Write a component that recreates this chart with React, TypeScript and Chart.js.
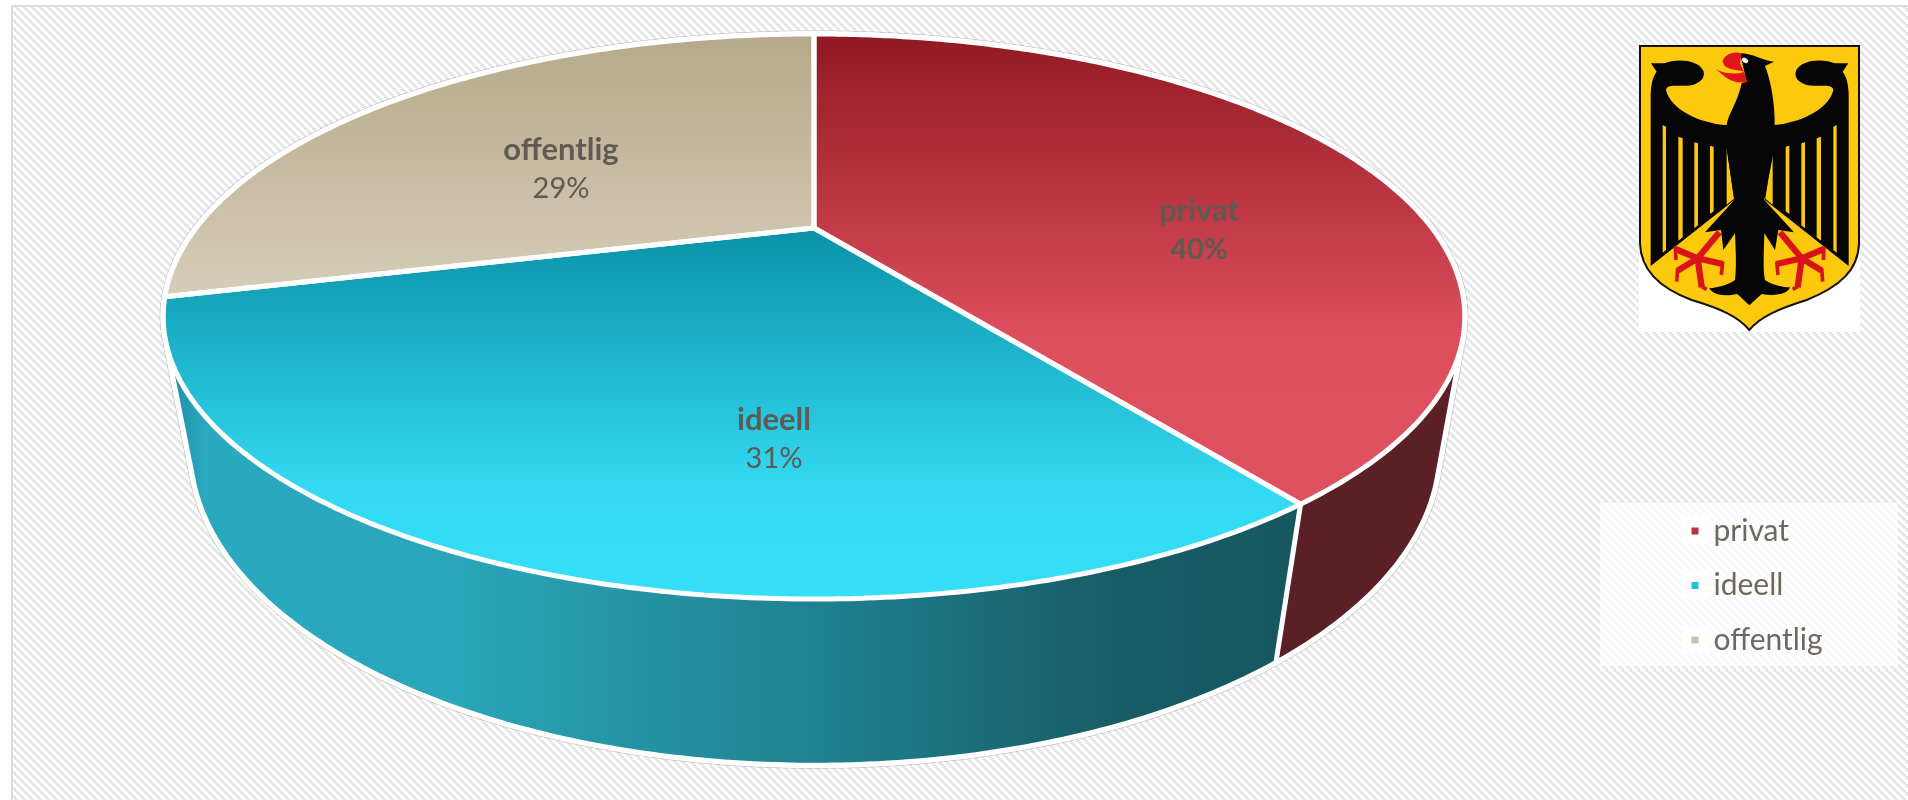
import React, { useEffect, useRef } from "react";
import { Chart, registerables } from "chart.js";

Chart.register(...registerables);

const categories = ["privat", "ideell", "offentlig"];
const shares = [40, 31, 29];
const legendColors = ["#c2303f", "#1fc0da", "#c9bfa6"];
const sideColors = ["#5a2026", "teal"];
const boldValue = [true, false, false];
const labelCentres = [
  [1199, 211, 250],
  [774, 420, 459],
  [561, 150, 189],
];

const W = 1908;
const H = 800;
// Perspective projection of the upper and lower discs
const TOP = { cx: 814, cy: 228, A: 618, B: 254.8, p: 0.3133 };
const LOW = { cx: 815, cy: 356, A: 597, B: 288.5, p: 0.295 };

type Disc = typeof TOP;
function project(d: Disc, angle: number, r = 1): [number, number] {
  const u = r * Math.cos(angle);
  const v = r * Math.sin(angle);
  const k = 1 - d.p * v;
  return [d.cx + (d.A * u) / k, d.cy + (d.B * v) / k];
}

function arcPoints(d: Disc, a: number, b: number): [number, number][] {
  const n = Math.max(2, Math.ceil(Math.abs(b - a) / 0.01));
  const pts: [number, number][] = [];
  for (let i = 0; i <= n; i++) pts.push(project(d, a + ((b - a) * i) / n));
  return pts;
}

function hull(points: [number, number][]): [number, number][] {
  const p = [...points].sort((a, b) => a[0] - b[0] || a[1] - b[1]);
  const cross = (o: number[], a: number[], b: number[]) =>
    (a[0] - o[0]) * (b[1] - o[1]) - (a[1] - o[1]) * (b[0] - o[0]);
  const lo: [number, number][] = [];
  for (const q of p) {
    while (lo.length >= 2 && cross(lo[lo.length - 2], lo[lo.length - 1], q) <= 0) lo.pop();
    lo.push(q);
  }
  const up: [number, number][] = [];
  for (let i = p.length - 1; i >= 0; i--) {
    const q = p[i];
    while (up.length >= 2 && cross(up[up.length - 2], up[up.length - 1], q) <= 0) up.pop();
    up.push(q);
  }
  lo.pop();
  up.pop();
  return lo.concat(up);
}

function tracePoly(ctx: CanvasRenderingContext2D, pts: [number, number][]) {
  ctx.beginPath();
  pts.forEach((q, i) => (i ? ctx.lineTo(q[0], q[1]) : ctx.moveTo(q[0], q[1])));
  ctx.closePath();
}

function drawCoat(ctx: CanvasRenderingContext2D) {
  ctx.save();
  ctx.translate(1620, 30);
  ctx.scale(1 / 3, 1 / 3);
  ctx.fillStyle = "#ffffff";
  ctx.fillRect(57, 45, 663, 860);
  const shield = new Path2D(
    "M60,48 L717,48 L717,640 C715,720 660,770 560,810 C480,835 420,860 388,900 C355,860 300,835 215,810 C120,775 62,720 60,640 Z"
  );
  ctx.fillStyle = "#fdc90c";
  ctx.fill(shield);
  ctx.strokeStyle = "#141008";
  ctx.lineWidth = 6;
  ctx.stroke(shield);

  const wing = new Path2D(
    "M440,285 L464,285 C540,278 625,240 640,180 C636,160 600,172 560,165 C532,155 522,140 528,122 C545,88 610,85 645,100 L685,100 L668,125 C680,140 686,165 686,200 L686,708 L435,510 Z"
  );
  const stripes = new Path2D(
    "M640,290 L650,285 L650,668 L640,660 Z M590,325 L603,320 L603,632 L590,622 Z M544,340 L555,337 L555,595 L544,586 Z M497,350 L508,347 L508,552 L497,544 Z M458,355 L436,506 L458,524 Z"
  );
  for (const mirror of [false, true]) {
    ctx.save();
    if (mirror) {
      ctx.translate(778, 0);
      ctx.scale(-1, 1);
    }
    ctx.fillStyle = "#050505";
    ctx.fill(wing);
    ctx.fillStyle = "#fdc90c";
    ctx.fill(stripes);
    ctx.restore();
  }

  const body = new Path2D(
    "M320,285 C325,250 352,220 365,160 L380,155 L360,70 C400,70 425,92 462,95 L435,108 C452,150 465,220 464,285 L464,350 L433,510 L522,607 L475,600 L465,660 L433,610 C432,660 428,720 435,750 C455,765 490,772 510,772 C505,790 470,800 425,792 L388,826 L352,792 C310,800 280,795 268,775 C295,772 325,765 345,750 C350,710 347,660 345,610 L310,660 L303,600 L255,607 L343,510 L320,355 Z"
  );
  ctx.fillStyle = "#050505";
  ctx.fill(body);

  ctx.fillStyle = "#e0151b";
  ctx.fill(new Path2D("M308,92 C318,68 350,62 365,72 L360,100 L372,126 C355,118 335,122 320,112 C312,106 308,100 308,92 Z"));
  ctx.fill(new Path2D("M288,118 C305,128 340,136 372,126 L382,155 C360,162 335,155 315,140 Z"));
  ctx.fillStyle = "#f4f4f4";
  ctx.beginPath();
  ctx.ellipse(375, 91, 10, 7, 0.6, 0, Math.PI * 2);
  ctx.fill();

  ctx.strokeStyle = "#d8141a";
  ctx.lineCap = "butt";
  ctx.lineJoin = "miter";
  const claw = new Path2D(
    "M480,607 L545,685 M470,702 L545,685 L612,657 M545,685 L605,722 M545,685 L533,772"
  );
  const tips = new Path2D(
    "M470,695 L474,735 M612,650 L610,690 M605,715 L608,755 M533,770 L518,778"
  );
  for (const mirror of [false, true]) {
    ctx.save();
    if (mirror) {
      ctx.translate(778, 0);
      ctx.scale(-1, 1);
    }
    ctx.lineWidth = 19;
    ctx.stroke(claw);
    ctx.lineWidth = 11;
    ctx.stroke(tips);
    ctx.restore();
  }
  ctx.restore();
}

function drawBackdrop(ctx: CanvasRenderingContext2D) {
  ctx.fillStyle = "#ffffff";
  ctx.fillRect(0, 0, W, H);
  const tile = document.createElement("canvas");
  tile.width = 8;
  tile.height = 8;
  const t = tile.getContext("2d")!;
  t.fillStyle = "#ffffff";
  t.fillRect(0, 0, 8, 8);
  t.fillStyle = "#e7e7e7";
  for (let y = 0; y < 8; y++) {
    for (let x = 0; x < 8; x++) {
      const k = (Math.floor(x / 2) - Math.floor(y / 2) + 8) % 4;
      if (k < 2) t.fillRect(x, y, 1, 1);
    }
  }
  ctx.fillStyle = ctx.createPattern(tile, "repeat")!;
  ctx.fillRect(13, 7, W - 13, H - 7);
  ctx.fillStyle = "#dddddd";
  ctx.fillRect(11, 5, W - 11, 2);
  ctx.fillRect(11, 5, 2, H - 5);

  // Legend panel
  ctx.fillStyle = "rgba(255,255,255,0.78)";
  ctx.fillRect(1600, 503, 298, 163);
  ctx.fillStyle = "#ffffff";
  [530, 585, 640].forEach((y) => ctx.fillRect(1682, y - 14, 27, 28));
}

const pie3d = {
  id: "pie3d",
  beforeDraw(chart: any) {
    const ctx = chart.ctx;
    ctx.save();
    drawBackdrop(ctx);
    drawCoat(ctx);
    ctx.restore();
  },
  afterLayout(chart: any) {
    const lg = chart.legend;
    const padding = lg.options.labels.padding;
    lg.left = 1691.5 - padding;
    lg.right = lg.left + 210;
    lg.top = 516 - padding;
    lg.bottom = lg.top + 280;
  },
  beforeDatasetDraw(chart: any) {
    const ctx: CanvasRenderingContext2D = chart.ctx;
    const arcs = chart.getDatasetMeta(0).data;
    const pts = [...arcPoints(TOP, 0, Math.PI * 2), ...arcPoints(LOW, 0, Math.PI * 2)];
    const h = hull(pts);
    ctx.save();
    ctx.lineJoin = "round";

    tracePoly(ctx, h);
    ctx.strokeStyle = "rgba(150,150,150,0.5)";
    ctx.lineWidth = 7;
    ctx.stroke();
    ctx.strokeStyle = "#ffffff";
    ctx.lineWidth = 5.5;
    ctx.stroke();

    // Side wall
    ctx.save();
    tracePoly(ctx, h);
    ctx.clip();
    const g = ctx.createLinearGradient(172, 0, 1280, 0);
    g.addColorStop(0, "#1f8fa5");
    g.addColorStop(0.03, "#2aa9bf");
    g.addColorStop(0.25, "#2aa6ba");
    g.addColorStop(0.6, "#1f7f8e");
    g.addColorStop(0.85, "#175c66");
    g.addColorStop(1, "#175860");
    ctx.fillStyle = g;
    ctx.fillRect(0, 0, W, H);
    const split = arcs[0].endAngle;
    const T = project(TOP, split);
    const L = project(LOW, split);
    const dx = L[0] - T[0];
    const dy = L[1] - T[1];
    ctx.beginPath();
    ctx.moveTo(T[0] - dx * 3, T[1] - dy * 3);
    ctx.lineTo(L[0] + dx * 3, L[1] + dy * 3);
    ctx.lineTo(W, H);
    ctx.lineTo(W, 0);
    ctx.closePath();
    ctx.fillStyle = sideColors[0];
    ctx.fill();
    ctx.beginPath();
    ctx.moveTo(T[0], T[1]);
    ctx.lineTo(L[0], L[1]);
    ctx.strokeStyle = "#ffffff";
    ctx.lineWidth = 5;
    ctx.stroke();
    ctx.restore();

    tracePoly(ctx, h);
    ctx.strokeStyle = "#ffffff";
    ctx.lineWidth = 5;
    ctx.stroke();

    // Upper disc, one slice per arc element
    const slice = (el: any) => {
      ctx.beginPath();
      const c = project(TOP, 0, 0);
      ctx.moveTo(c[0], c[1]);
      arcPoints(TOP, el.startAngle, el.endAngle).forEach((q) => ctx.lineTo(q[0], q[1]));
      ctx.closePath();
    };
    arcs.forEach((el: any) => {
      slice(el);
      ctx.fillStyle = el.options.backgroundColor;
      ctx.fill();
    });
    arcs.forEach((el: any) => {
      slice(el);
      ctx.strokeStyle = "#ffffff";
      ctx.lineWidth = 5;
      ctx.stroke();
    });
    ctx.restore();
    return false;
  },
  afterDatasetsDraw(chart: any) {
    const ctx: CanvasRenderingContext2D = chart.ctx;
    const values = chart.data.datasets[0].data;
    ctx.save();
    ctx.textAlign = "center";
    ctx.textBaseline = "middle";
    ctx.fillStyle = "#5f5a52";
    chart.data.labels.forEach((label: string, i: number) => {
      const [x, y1, y2] = labelCentres[i];
      ctx.font = "bold 31px Lato";
      ctx.fillText(label, x, y1);
      ctx.font = `${boldValue[i] ? "bold " : ""}29px Lato`;
      ctx.fillText(`${values[i]}%`, x, y2);
    });
    ctx.restore();
  },
};

function sliceFill(c: any) {
  const ctx = c.chart.ctx;
  const i = c.dataIndex;
  if (i === 0) {
    const g = ctx.createLinearGradient(0, 34, 0, 504);
    g.addColorStop(0, "#911923");
    g.addColorStop(0.65, "#de4f5e");
    g.addColorStop(1, "#e0515f");
    return g;
  }
  if (i === 1) {
    const g = ctx.createLinearGradient(0, 228, 0, 599);
    g.addColorStop(0, "#0a92a7");
    g.addColorStop(0.7, "#33d9f2");
    g.addColorStop(1, "#36def7");
    return g;
  }
  const g = ctx.createLinearGradient(0, 34, 0, 296);
  g.addColorStop(0, "#b5a98a");
  g.addColorStop(1, "#d6cdb9");
  return g;
}

export default function App() {
  const ref = useRef<HTMLCanvasElement>(null);
  useEffect(() => {
    const chart = new Chart(ref.current!, {
      type: "pie",
      data: {
        labels: categories,
        datasets: [{ data: shares, backgroundColor: sliceFill, borderWidth: 0 }],
      },
      options: {
        responsive: false,
        animation: false,
        plugins: {
          tooltip: { enabled: false },
          legend: {
            display: true,
            position: "right",
            align: "start",
            labels: {
              usePointStyle: true,
              pointStyle: "rect",
              boxWidth: 7,
              boxHeight: 7,
              padding: 24.5,
              color: "#6e695f",
              font: { family: "Lato", size: 30 },
              generateLabels: (c: any) =>
                c.data.labels.map((text: string, i: number) => ({
                  text,
                  index: i,
                  fillStyle: legendColors[i],
                  strokeStyle: legendColors[i],
                  lineWidth: 0,
                  fontColor: "#6e695f",
                  pointStyle: "rect",
                })),
            },
          },
        },
      } as any,
      plugins: [pie3d as any],
    });
    return () => chart.destroy();
  }, []);
  return (
    <div style={{ position: "absolute", left: 0, top: 0, width: W, height: H, overflow: "hidden" }}>
      <canvas ref={ref} width={W} height={H} style={{ display: "block" }} />
    </div>
  );
}
